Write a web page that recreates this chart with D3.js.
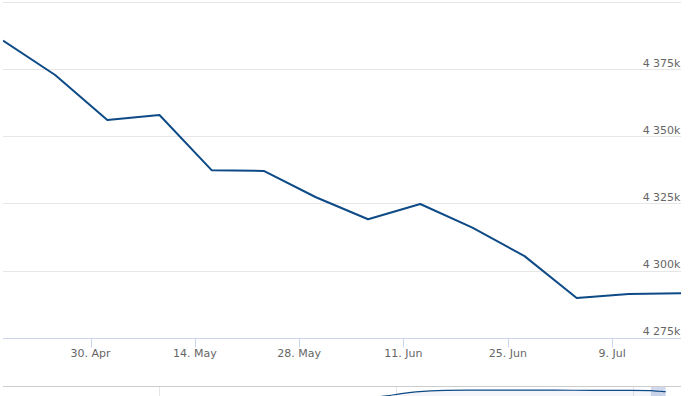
<!DOCTYPE html>
<html>
<head>
<meta charset="utf-8">
<script src="https://cdn.jsdelivr.net/npm/d3@7"></script>
<style>
  html, body { margin: 0; padding: 0; background: #ffffff; }
  svg { display: block; }
  text { font-family: "DejaVu Sans", Verdana, sans-serif; }
</style>
</head>
<body>
<div id="chart"></div>
<script>
// ---- data (values in thousands) ----
const dates = ["2018-04-18T06:00","2018-04-25T06:00","2018-05-02T06:00","2018-05-09T06:00",
  "2018-05-16T06:00","2018-05-23T06:00","2018-05-30T06:00","2018-06-06T06:00",
  "2018-06-13T06:00","2018-06-20T06:00","2018-06-27T06:00","2018-07-04T06:00",
  "2018-07-11T06:00","2018-07-18T06:00"];
const values = [4385.8, 4373.0, 4356.3, 4358.1, 4337.6, 4337.3, 4327.5, 4319.3,
  4325.0, 4316.2, 4305.6, 4290.0, 4291.5, 4291.8];

const xTickDates = ["2018-04-30","2018-05-14","2018-05-28","2018-06-11","2018-06-25","2018-07-09"];
const xTickLabels = ["30. Apr","14. May","28. May","11. Jun","25. Jun","9. Jul"];
const yTicks = [4275, 4300, 4325, 4350, 4375, 4400];
const yTickLabels = ["4 275k","4 300k","4 325k","4 350k","4 375k",""];

// navigator history before the visible range
const navHistDates = ["2013-04-01","2013-08-01","2013-11-01","2014-02-01","2014-05-01",
  "2014-08-01","2014-11-01","2015-04-01","2016-01-01","2016-09-01","2017-05-01","2017-12-01"];
const navHistValues = [3450, 3760, 3910, 4110, 4260, 4355, 4395, 4415, 4425, 4420, 4405, 4395];
const navGridDates = ["2010-01-01","2014-01-01","2018-01-01"];

// ---- setup ----
const W = 699, H = 396;
const parseDT = d3.timeParse("%Y-%m-%dT%H:%M");
const parseD = d3.timeParse("%Y-%m-%d");
const lineColor = "#0d4a86";

const svg = d3.select("#chart").append("svg").attr("width", W).attr("height", H);
svg.append("rect").attr("width", W).attr("height", H).attr("fill", "#fff");

const plotL = 3, plotR = 681, plotT = 2.5, plotB = 338.3;

const mainData = dates.map((d, i) => ({ date: parseDT(d), value: values[i] }));

const x = d3.scaleTime()
  .domain(d3.extent(mainData, d => d.date))
  .range([plotL, plotR]);
const y = d3.scaleLinear().domain([4275, 4400]).range([plotB, plotT]);

// grid lines
svg.append("g").selectAll("line").data(yTicks.slice(1)).join("line")
  .attr("x1", plotL).attr("x2", plotR)
  .attr("y1", d => Math.floor(y(d)) + 0.5).attr("y2", d => Math.floor(y(d)) + 0.5)
  .attr("stroke", "#e6e6e6").attr("stroke-width", 1);

// y labels
svg.append("g").selectAll("text").data(yTicks).join("text")
  .attr("x", 680.5).attr("y", d => y(d) - 3)
  .attr("text-anchor", "end")
  .attr("font-size", 11).attr("fill", "#666666")
  .text((d, i) => yTickLabels[i]);

// x axis line
const axisY = Math.floor(plotB) + 0.5;
svg.append("line").attr("x1", plotL).attr("x2", plotR)
  .attr("y1", axisY).attr("y2", axisY)
  .attr("stroke", "#ccd6eb").attr("stroke-width", 1);

const xt = xTickDates.map(parseD);
svg.append("g").selectAll("line").data(xt).join("line")
  .attr("x1", d => Math.round(x(d)) + 0.5).attr("x2", d => Math.round(x(d)) + 0.5)
  .attr("y1", axisY).attr("y2", axisY + 9)
  .attr("stroke", "#ccd6eb").attr("stroke-width", 1);
svg.append("g").selectAll("text").data(xt).join("text")
  .attr("x", d => x(d)).attr("y", 357)
  .attr("text-anchor", "middle")
  .attr("font-size", 11).attr("fill", "#666666")
  .text((d, i) => xTickLabels[i]);

// main line (clipped to plot)
svg.append("clipPath").attr("id", "plotclip").append("rect")
  .attr("x", plotL).attr("y", 0).attr("width", plotR - plotL).attr("height", plotB);
svg.append("path").datum(mainData)
  .attr("clip-path", "url(#plotclip)")
  .attr("fill", "none").attr("stroke", lineColor).attr("stroke-width", 2)
  .attr("stroke-linejoin", "round")
  .attr("d", d3.line().x(d => x(d.date)).y(d => y(d.value)));

// ---- navigator ----
const navTop = 387;
const navData = navHistDates.map((d, i) => ({ date: parseD(d), value: navHistValues[i] }))
  .concat(mainData);
const nx = d3.scaleTime()
  .domain([parseD("2007-05-14"), parseD("2018-10-21")])
  .range([plotL, plotR]);
const ny = d3.scaleLinear().domain([0, 4700]).range([440, navTop]);

svg.append("clipPath").attr("id", "navclip").append("rect")
  .attr("x", plotL).attr("y", navTop).attr("width", plotR - plotL).attr("height", 60);

const navG = svg.append("g").attr("clip-path", "url(#navclip)");
// grid lines
navG.selectAll("line.grid").data(navGridDates.map(parseD)).join("line")
  .attr("class", "grid")
  .attr("x1", d => Math.round(nx(d)) + 0.5).attr("x2", d => Math.round(nx(d)) + 0.5)
  .attr("y1", navTop).attr("y2", H)
  .attr("stroke", "#e6e6e6");
// area
navG.append("path").datum(navData)
  .attr("fill", "rgba(51,92,173,0.06)")
  .attr("d", d3.area().x(d => nx(d.date)).y0(460).y1(d => ny(d.value)).curve(d3.curveMonotoneX));
// selected zone
const z0 = nx(mainData[0].date), z1 = nx(mainData[mainData.length - 1].date);
navG.append("rect").attr("x", z0).attr("y", navTop).attr("width", z1 - z0).attr("height", 60)
  .attr("fill", "rgba(102,133,194,0.3)");
// line
navG.append("path").datum(navData)
  .attr("fill", "none").attr("stroke", lineColor).attr("stroke-width", 1.2)
  .attr("d", d3.line().x(d => nx(d.date)).y(d => ny(d.value)).curve(d3.curveMonotoneX));
// outline
svg.append("line").attr("x1", plotL).attr("x2", plotR)
  .attr("y1", navTop - 0.5).attr("y2", navTop - 0.5)
  .attr("stroke", "#cccccc").attr("stroke-width", 1);
</script>
</body>
</html>
